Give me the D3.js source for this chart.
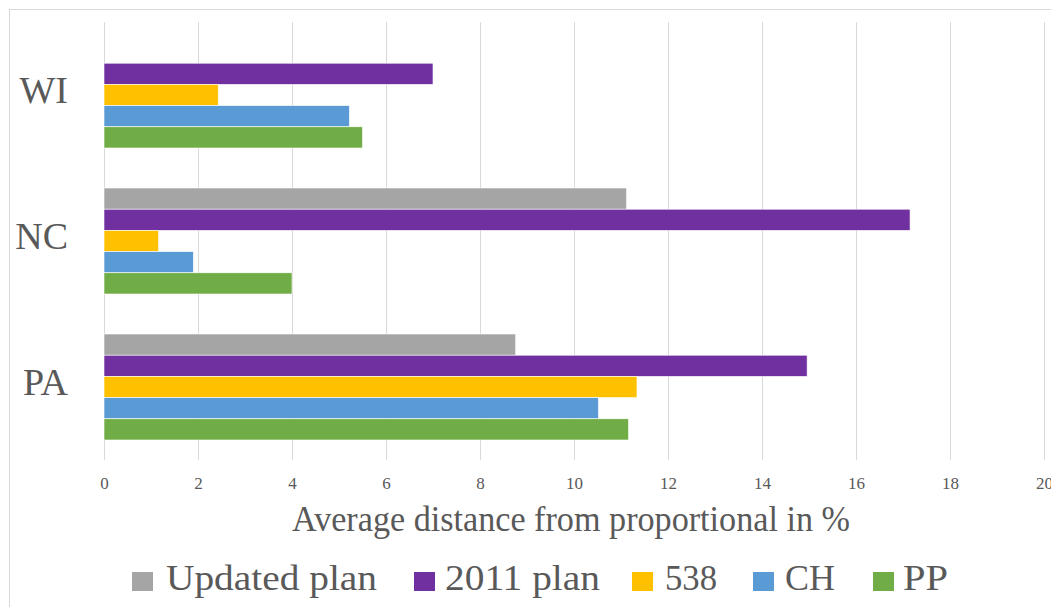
<!DOCTYPE html>
<html><head><meta charset="utf-8">
<script src="https://cdn.jsdelivr.net/npm/d3@7"></script>
<style>body{margin:0;background:#fff}svg{display:block}</style>
</head><body>
<script>
const categories = ["WI", "NC", "PA"];
const seriesNames = ["Updated plan", "2011 plan", "538", "CH", "PP"];
const seriesColors = ["#A5A5A5", "#7030A0", "#FFC000", "#5B9BD5", "#70AD47"];
const updatedPlan = [null, 11.12, 8.76];
const plan2011 = [7.0, 17.15, 14.96];
const s538 = [2.43, 1.16, 11.34];
const sCH = [5.22, 1.9, 10.52];
const sPP = [5.5, 4.0, 11.16];
const xTicks = [0, 2, 4, 6, 8, 10, 12, 14, 16, 18, 20];
const xTitle = "Average distance from proportional in %";

const seriesValues = [updatedPlan, plan2011, s538, sCH, sPP];
const W = 1051, H = 607;
const font = '"Liberation Serif"';
const txt = "#595959";
const svg = d3.select("body").append("svg").attr("width", W).attr("height", H);

svg.append("rect").attr("x", 9.5).attr("y", 9.5).attr("width", 1100).attr("height", 700)
  .attr("fill", "none").attr("stroke", "#d9d9d9").attr("stroke-width", 1);

const x = d3.scaleLinear().domain([0, 20]).range([104, 1044]);
const y = d3.scaleBand().domain(categories).range([22, 460]).paddingInner(0.274).paddingOuter(0.137);
const yi = d3.scaleBand().domain(seriesNames).range([0, y.bandwidth()]);

// gridlines
svg.append("g").selectAll("line").data(xTicks).join("line")
  .attr("x1", d => x(d) + 0.5).attr("x2", d => x(d) + 0.5)
  .attr("y1", 22).attr("y2", 460)
  .attr("stroke", "#d9d9d9").attr("stroke-width", 1);

// bars
const rows = [];
categories.forEach((c, ci) => seriesNames.forEach((s, si) => {
  const v = seriesValues[si][ci];
  if (v != null) rows.push({c, s, v, si});
}));
svg.append("g").selectAll("rect").data(rows).join("rect")
  .attr("x", x(0)).attr("y", d => y(d.c) + yi(d.s))
  .attr("width", d => x(d.v) - x(0)).attr("height", yi.bandwidth())
  .attr("fill", d => seriesColors[d.si])
  .attr("stroke", "#fff").attr("stroke-width", 0.6);

// x axis tick labels
const xAxis = d3.axisBottom(x).tickValues(xTicks).tickSize(0).tickPadding(0);
const gx = svg.append("g").attr("transform", "translate(0,477)").call(xAxis)
  .attr("font-family", null).attr("font-size", null);
gx.select(".domain").remove();
gx.selectAll("text").style("font-family", font).style("font-size", "17px").attr("fill", txt);

// y axis labels
const yAxis = d3.axisLeft(y).tickSize(0).tickPadding(0);
const gy = svg.append("g").attr("transform", "translate(68,0)").call(yAxis)
  .attr("font-family", null).attr("font-size", null);
gy.select(".domain").remove();
gy.selectAll("text").style("font-family", font).style("font-size", "38px").attr("fill", txt)
  .attr("dy", "0.22em");

// axis title
svg.append("text").attr("x", 571).attr("y", 531).attr("text-anchor", "middle")
  .style("font-family", font).style("font-size", "35px").attr("fill", txt)
  .attr("textLength", 558).attr("lengthAdjust", "spacingAndGlyphs")
  .text(xTitle);

// legend
const legendX = [132, 414, 632, 753, 873];
const legendTextX = [166, 445, 665, 785, 903];
const legendW = [211, 155, 52, 50, 45];
const lg = svg.append("g").selectAll("g").data(seriesNames).join("g");
lg.append("rect").attr("x", (d, i) => legendX[i]).attr("y", 572).attr("width", 21).attr("height", 19)
  .attr("fill", (d, i) => seriesColors[i]);
lg.append("text").attr("x", (d, i) => legendTextX[i]).attr("y", 590)
  .style("font-family", font).style("font-size", "36px").attr("fill", txt)
  .attr("textLength", (d, i) => legendW[i]).attr("lengthAdjust", "spacingAndGlyphs")
  .text(d => d);
</script>
</body></html>
